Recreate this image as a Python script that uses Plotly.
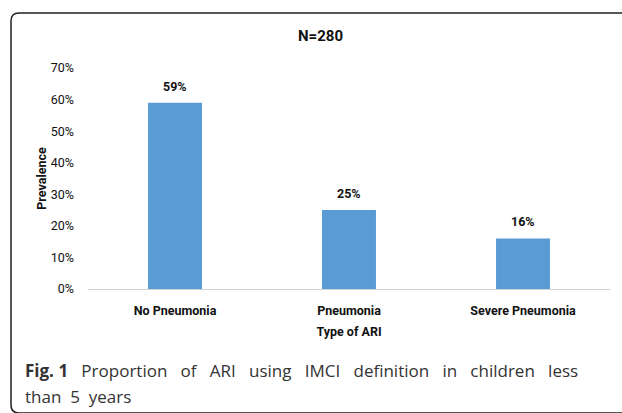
import plotly.graph_objects as go

categories = ["No Pneumonia", "Pneumonia", "Severe Pneumonia"]
prevalence = [0.59, 0.25, 0.16]
y_ticks = [0, 0.1, 0.2, 0.3, 0.4, 0.5, 0.6, 0.7]
caption_1 = ["<b>Fig. 1</b>", "Proportion", "of", "ARI", "using", "IMCI", "definition", "in", "children", "less"]
caption_2 = "than 5 years"

W, H = 622, 413
L, R, T, B = 88, 12, 68, 124
pw, ph = W - L - R, H - T - B

def px(x):
    return (x - L) / pw

def py(y):
    return (H - B - y) / ph

FONT = "Roboto, sans-serif"
TXT = "#111111"
FS = 12.5

fig = go.Figure(go.Bar(
    x=categories, y=prevalence,
    marker=dict(color="#5B9BD5", line=dict(width=0)),
    width=0.31,
    hoverinfo="skip",
))

label_annotations = [
    dict(x=c, y=v, xref="x", yref="y", text=f"<b>{v:.0%}</b>", showarrow=False,
         yanchor="bottom", yshift=7, font=dict(family=FONT, size=FS, color=TXT))
    for c, v in zip(categories, prevalence)
]

border = (f"M {px(640)},{py(13)} L {px(19)},{py(13)} Q {px(11)},{py(13)} {px(11)},{py(21)} "
          f"L {px(11)},{py(405)} Q {px(11)},{py(413)} {px(19)},{py(413)} L {px(640)},{py(413)}")

gap = "&nbsp;&nbsp;&nbsp;"
fig.update_layout(
    width=W, height=H,
    margin=dict(l=L, r=R, t=T, b=B),
    paper_bgcolor="white", plot_bgcolor="white",
    showlegend=False,
    font=dict(family=FONT, color=TXT),
    xaxis=dict(
        showline=True, linecolor="#d0d0d0", linewidth=1,
        showgrid=False, ticks="", ticklabelstandoff=10,
        tickprefix="<b>", ticksuffix="</b>",
        tickfont=dict(family=FONT, size=FS, color=TXT),
        title=dict(text="<b>Type of ARI</b>", font=dict(family=FONT, size=FS, color=TXT), standoff=10),
    ),
    yaxis=dict(
        range=[0, 0.7], tickvals=y_ticks, tickformat=".0%",
        showgrid=False, showline=False, zeroline=False, ticks="",
        ticklabelstandoff=13,
        tickprefix="<b>", ticksuffix="</b>",
        tickfont=dict(family=FONT, size=FS, color=TXT),
        title=dict(text="<b>Prevalence</b>", font=dict(family=FONT, size=FS, color=TXT), standoff=1),
    ),
    shapes=[dict(type="path", path=border, xref="paper", yref="paper",
                 line=dict(color="#222222", width=1.5), layer="above")],
    annotations=label_annotations + [
        dict(text="<b>N=280</b>", x=px(320), y=py(36), xref="paper", yref="paper",
             showarrow=False, font=dict(family=FONT, size=15, color=TXT), xanchor="center", yanchor="middle"),
        dict(text=gap.join(caption_1),
             x=px(23), y=py(370), xref="paper", yref="paper", showarrow=False,
             xanchor="left", yanchor="middle",
             font=dict(family="Open Sans", size=17, color="#333333")),
        dict(text=caption_2.replace(" ", "&nbsp;&nbsp;"),
             x=px(23), y=py(396), xref="paper", yref="paper", showarrow=False,
             xanchor="left", yanchor="middle",
             font=dict(family="Open Sans", size=17, color="#333333")),
    ],
)

fig.write_html("out.html", config={"displayModeBar": False},
               post_script="document.body.style.margin='0';document.body.style.overflow='hidden';")
